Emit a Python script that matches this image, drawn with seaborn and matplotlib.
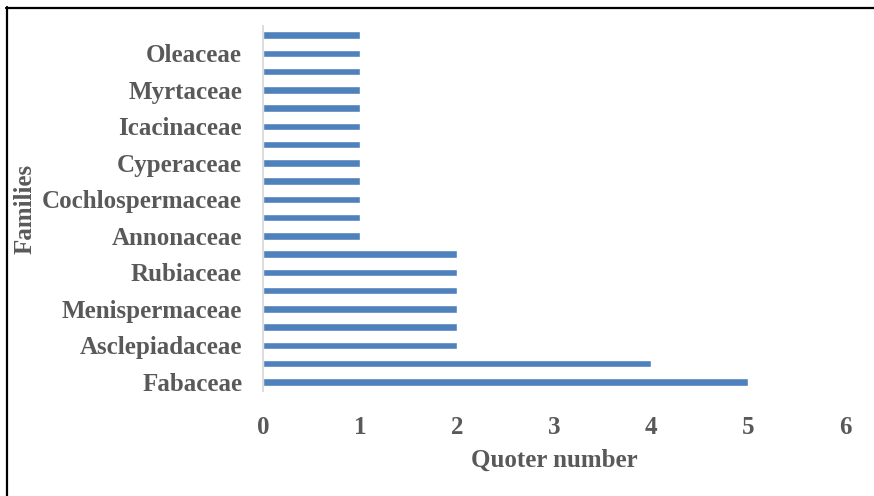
import matplotlib
matplotlib.use("Agg")
import matplotlib.pyplot as plt
from matplotlib.lines import Line2D
import seaborn as sns
import pandas as pd

# Plant families, listed from the bottom bar to the top bar
families = [
    "Fabaceae", "Euphorbiaceae", "Asclepiadaceae", "Capparaceae",
    "Menispermaceae", "Mimosaceae", "Rubiaceae", "Verbenaceae",
    "Annonaceae", "Apocynaceae", "Cochlospermaceae", "Combretaceae",
    "Cyperaceae", "Ebenaceae", "Icacinaceae", "Loganiaceae",
    "Myrtaceae", "Olacaceae", "Oleaceae", "Zingiberaceae",
]
quoter_counts = [5, 4, 2, 2, 2, 2, 2, 2, 1, 1, 1, 1, 1, 1, 1, 1, 1, 1, 1, 1]

# Only every other family name is printed on the axis
shown_labels = families[::2]
x_ticks = [0, 1, 2, 3, 4, 5, 6]

bar_color = "#4F81BD"
text_color = "#595959"

sns.set_theme(style="white")
plt.rcParams["font.family"] = ["Liberation Serif", "DejaVu Serif"]
plt.rcParams["font.weight"] = "bold"

df = pd.DataFrame({"Family": families, "Count": quoter_counts})

fig = plt.figure(figsize=(8.74, 4.96), dpi=100)
ax = fig.add_axes([263 / 874, 1 - 391 / 496, (845 - 263) / 874, (391 - 26) / 496])

top_to_bottom = families[::-1]
sns.barplot(data=df, x="Count", y="Family", order=top_to_bottom, orient="h",
            color=bar_color, saturation=1, width=0.41, ax=ax)

ax.set_xlim(x_ticks[0], x_ticks[-1])
ax.set_xticks(x_ticks)
ax.set_xticklabels([str(t) for t in x_ticks])
ax.set_yticks([top_to_bottom.index(f) for f in shown_labels])
ax.set_yticklabels(shown_labels)

ax.tick_params(axis="x", length=0, pad=18, labelsize=18, labelcolor=text_color)
ax.tick_params(axis="y", length=0, pad=15, labelsize=18, labelcolor=text_color)
for lbl in ax.get_xticklabels() + ax.get_yticklabels():
    lbl.set_fontweight("bold")

ax.set_xlabel("Quoter number", fontsize=18, fontweight="bold", color=text_color)
ax.set_ylabel("Families", fontsize=18, fontweight="bold", color=text_color)
ax.xaxis.set_label_coords(0.5, (391 - 449) / 365)
ax.xaxis.label.set_va("top")
ax.yaxis.set_label_coords((25 - 263) / 582, 0.5)
ax.yaxis.label.set_va("center")

ax.grid(False)
for side in ("top", "right", "bottom"):
    ax.spines[side].set_visible(False)
ax.spines["left"].set_color("#D9D9D9")
ax.spines["left"].set_linewidth(1.3)

# Frame lines along the left and top edges of the figure
fig.add_artist(Line2D([7 / 874, 7 / 874], [0, 1 - 7 / 496], transform=fig.transFigure,
                      color="black", linewidth=1.6))
fig.add_artist(Line2D([6 / 874, 1], [1 - 8 / 496, 1 - 8 / 496], transform=fig.transFigure,
                      color="black", linewidth=1.6))

fig.savefig("out.png", dpi=100, facecolor="white")
